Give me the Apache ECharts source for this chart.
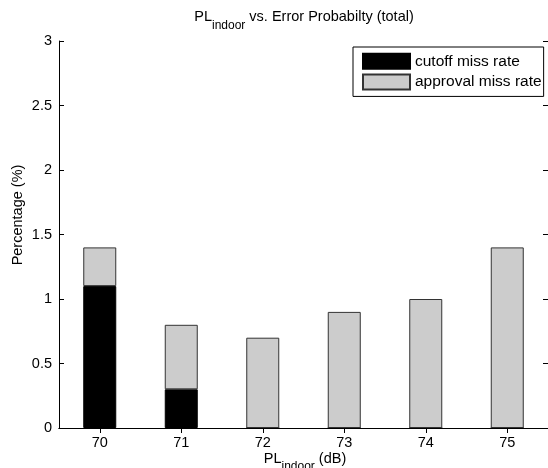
<!DOCTYPE html>
<html>
<head>
  <title>PL indoor vs. Error Probability</title>
  <script src="https://cdn.jsdelivr.net/npm/echarts@6/dist/echarts.min.js"></script>
</head>
<body style="margin:0">
  <div id="chartContainer" style="width: 548px; height: 468px;"></div>

  <script>
    // bar positions (dB) and stacked values (%)
    const plIndoor = ['70', '71', '72', '73', '74', '75'];
    const cutoffMiss = [1.1, 0.3, 0, 0, 0, 0];
    const approvalMiss = [0.3, 0.5, 0.7, 0.9, 1.0, 1.4];

    const font = 'Liberation Sans';
    const chart = echarts.init(document.getElementById('chartContainer'));

    // PL with "indoor" subscript
    const subRich = {
      b: { fontSize: 14.5, fontFamily: font, color: '#000', fontWeight: 'normal', lineHeight: 16, verticalAlign: 'top' },
      s: { fontSize: 12, fontFamily: font, color: '#000', fontWeight: 'normal', lineHeight: 13, verticalAlign: 'top', padding: [10, 0, 0, 0] }
    };

    const frameAxis = {
      splitLine: { show: false },
      axisLine: { show: true, lineStyle: { color: '#000', width: 1 } },
      axisTick: { show: true, inside: true, length: 5, lineStyle: { color: '#000' } }
    };

    const option = {
      animation: false,
      backgroundColor: '#fff',
      textStyle: { fontFamily: font },
      title: {
        text: '{b|PL}{s|indoor}{b| vs. Error Probabilty (total)}',
        left: 304,
        top: 5,
        padding: 0,
        textAlign: 'center',
        textStyle: { rich: subRich }
      },
      legend: {
        orient: 'vertical',
        left: 353,
        top: 47,
        padding: [1, 2, 1, 9],
        itemGap: -6,
        itemWidth: 47,
        itemHeight: 15,
        icon: 'rect',
        borderColor: '#000',
        borderWidth: 1,
        borderRadius: 0,
        backgroundColor: '#fff',
        textStyle: { fontSize: 15.5, lineHeight: 16, height: 16, color: '#000', fontFamily: font },
        data: ['cutoff miss rate', 'approval miss rate']
      },
      grid: { left: 59, right: -2, top: 41, bottom: 40 },
      xAxis: [
        Object.assign({}, frameAxis, {
          type: 'category',
          data: plIndoor,
          position: 'bottom',
          axisTick: { show: true, inside: true, length: 5, alignWithLabel: true, lineStyle: { color: '#000' } },
          axisLabel: { color: '#000', fontSize: 14.5, margin: 3 }
        }),
        Object.assign({}, frameAxis, {
          type: 'category',
          data: plIndoor,
          position: 'top',
          axisTick: { show: true, inside: true, length: 5, alignWithLabel: true, lineStyle: { color: '#000' } },
          axisLabel: { show: false }
        })
      ],
      yAxis: [
        Object.assign({}, frameAxis, {
          type: 'value',
          min: 0,
          max: 3,
          interval: 0.5,
          axisLabel: { color: '#000', fontSize: 14.5, margin: 7 }
        }),
        Object.assign({}, frameAxis, {
          type: 'value',
          min: 0,
          max: 3,
          interval: 0.5,
          position: 'right',
          axisLabel: { show: false }
        })
      ],
      graphic: [
        {
          type: 'text',
          x: 305,
          y: 446.5,
          style: {
            text: '{b|PL}{s|indoor}{b| (dB)}',
            rich: subRich,
            align: 'center',
            verticalAlign: 'top'
          }
        },
        {
          type: 'text',
          x: 18,
          y: 215,
          rotation: Math.PI / 2,
          style: {
            text: 'Percentage (%)',
            fill: '#000',
            font: '14.5px "Liberation Sans"',
            align: 'center',
            verticalAlign: 'middle'
          }
        }
      ],
      series: [
        {
          name: 'cutoff miss rate',
          type: 'bar',
          stack: 'total',
          barWidth: 33,
          itemStyle: { color: '#000', borderColor: '#000', borderWidth: 1 },
          data: cutoffMiss
        },
        {
          name: 'approval miss rate',
          type: 'bar',
          stack: 'total',
          barWidth: 33,
          itemStyle: { color: '#cccccc', borderColor: '#333', borderWidth: 1 },
          data: approvalMiss
        }
      ]
    };

    chart.setOption(option);
  </script>
</body>
</html>
